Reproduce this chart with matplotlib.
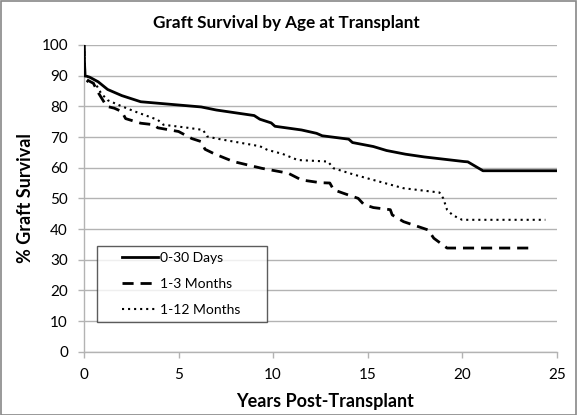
import matplotlib
matplotlib.use("Agg")
import matplotlib.pyplot as plt
from matplotlib.patches import Rectangle
from matplotlib.lines import Line2D
from matplotlib.legend_handler import HandlerLine2D

plt.rcParams['font.family'] = ['Lato', 'DejaVu Sans']

# Data (years, % graft survival)
days_x = [0, 0.05, 0.3, 0.75, 1.25, 2.0, 3.0, 4.5, 6.2, 7.0, 9.0, 9.3, 9.9, 10.1, 11.5, 12.3, 12.6, 14.0, 14.2, 15.3, 16.0, 17.0, 18.0, 20.1, 20.3, 21.1, 25.0]
days_y = [100, 90, 89.5, 88, 85.5, 83.5, 81.5, 80.7, 79.8, 78.8, 77, 75.8, 74.6, 73.5, 72.3, 71.2, 70.4, 69.3, 68.2, 66.9, 65.6, 64.4, 63.5, 62, 61.9, 59, 59]

m13_x = [0, 0.05, 0.5, 0.7, 0.9, 1.2, 1.6, 2.0, 2.2, 3.0, 3.7, 3.9, 5.0, 5.7, 6.2, 6.4, 6.9, 7.9, 9.4, 10.8, 11.5, 12.5, 13.0, 13.2, 13.7, 14.5, 14.8, 15.3, 16.2, 16.3, 16.9, 18.2, 18.5, 19.2, 23.5]
m13_y = [100, 89, 87.5, 85, 83, 80, 79.4, 78.3, 76, 74.5, 74, 73, 71.8, 69.5, 68.5, 66, 64.5, 62, 59.8, 58.2, 56, 55.1, 55, 52.8, 51.7, 50, 48, 47, 46.3, 44.6, 42.4, 39.7, 37, 33.8, 33.8]

m112_x = [0, 0.05, 0.2, 0.6, 0.9, 1.25, 2.0, 2.7, 3.9, 4.2, 5.5, 6.3, 6.5, 7.0, 9.3, 9.7, 10.5, 11.3, 12.9, 13.2, 14.3, 15.3, 16.9, 18.8, 19.0, 19.2, 19.5, 20.0, 24.4]
m112_y = [100, 89, 88, 87.5, 84.3, 82, 80, 78.3, 75.6, 74, 73, 72.3, 70.2, 69.5, 67, 65.8, 64.5, 62.5, 62, 59.8, 57.7, 56, 53.3, 51.9, 50, 46.3, 44.5, 43, 43]

labels = ["0-30 Days", "1-3 Months", "1-12 Months"]
y_ticks = list(range(0, 101, 10))
x_ticks = [0, 5, 10, 15, 20, 25]

W, H = 577, 415
L, R, T, B = 84, 556.7, 45, 351.7
fig = plt.figure(figsize=(W/100, H/100), dpi=100)
ax = fig.add_axes([L/W, 1-B/H, (R-L)/W, (B-T)/H])

grid_c = '#b3b3b3'
ax.plot(m112_x, m112_y, color='black', lw=1.5, linestyle=(0, (1, 1.9)), label=labels[2], zorder=3)
ax.plot(m13_x, m13_y, color='black', lw=2.0, linestyle=(0, (4, 2.5)), label=labels[1], zorder=3)
ax.plot(days_x, days_y, color='black', lw=2.0, label=labels[0], zorder=4)

ax.set_xlim(0, 25)
ax.set_ylim(0, 100)
ax.set_yticks(y_ticks)
ax.set_xticks(x_ticks)
ax.yaxis.grid(True, color=grid_c, lw=1)
ax.set_axisbelow(True)
for s in ['top', 'right']:
    ax.spines[s].set_visible(False)
for s in ['left', 'bottom']:
    ax.spines[s].set_color(grid_c)
    ax.spines[s].set_linewidth(1)
ax.tick_params(axis='both', colors=grid_c, length=4, width=1, labelsize=11, labelcolor='black', direction='out')
ax.tick_params(axis='x', pad=8)
ax.tick_params(axis='y', pad=7.5)

fig.text(286/W, 1-23.3/H, "Graft Survival by Age at Transplant", fontsize=12.3, fontweight='bold',
         ha='center', va='center')
ax.set_xlabel("Years Post-Transplant", fontsize=13, fontweight='bold', va='center')
ax.xaxis.set_label_coords((325-L)/(R-L), -(401.7-B)/(B-T))
ax.set_ylabel("% Graft Survival", fontsize=13, fontweight='bold', va='center')
ax.yaxis.set_label_coords((26-L)/(R-L), 0.5)

h, l = ax.get_legend_handles_labels()
order = [2, 1, 0]
leg = ax.legend([h[i] for i in order], [l[i] for i in order], loc='lower left',
                bbox_to_anchor=((97-L)/(R-L), (B-322)/(B-T), 170/(R-L), 79/(B-T)),
                mode='expand', frameon=True, fancybox=False, fontsize=10,
                handlelength=3.93, borderpad=0.45, labelspacing=1.0, handletextpad=0.12,
                borderaxespad=0, handler_map={Line2D: HandlerLine2D(xpad=1.35)})
leg.get_frame().set_edgecolor('#333333')
leg.get_frame().set_linewidth(1)

fig.patches.append(Rectangle((0.5/W, 0.5/H), 1-1.5/W, 1-1.5/H, transform=fig.transFigure,
                             fill=False, edgecolor='#888888', lw=1.2))

fig.savefig("out.png", dpi=100)
